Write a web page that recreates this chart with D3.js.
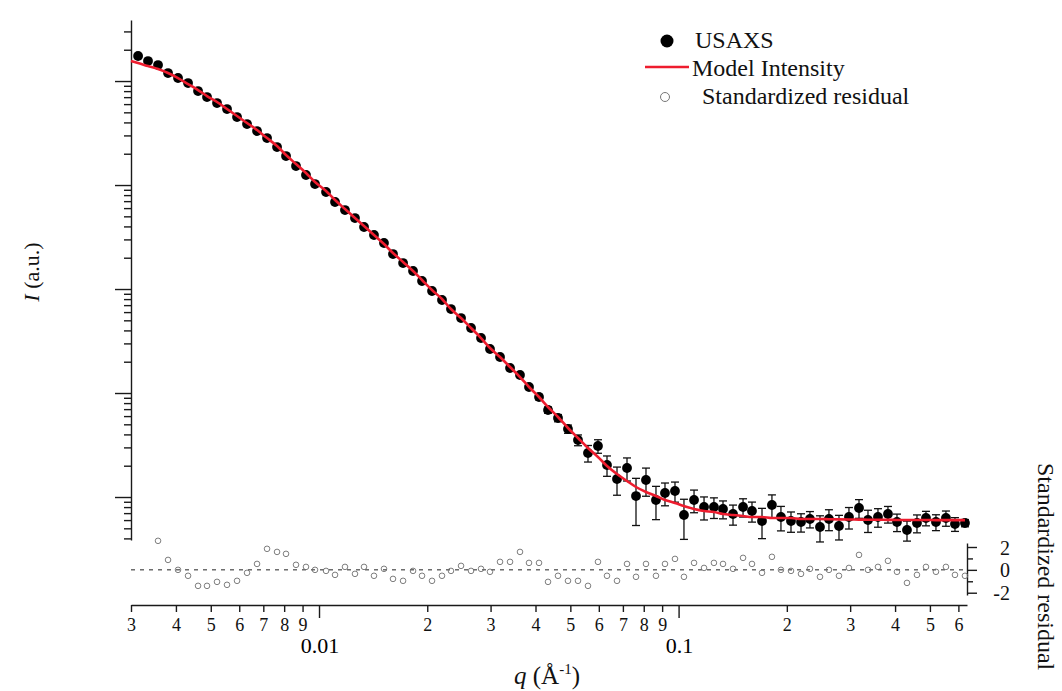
<!DOCTYPE html>
<html>
<head>
<meta charset="utf-8">
<script src="https://cdn.jsdelivr.net/npm/d3@7"></script>
<style>
body { margin: 0; background: #fff; }
svg { display: block; font-family: "Liberation Serif", "Times New Roman", serif; }
</style>
</head>
<body>
<svg id="chart" width="1062" height="691"></svg>
<script>
// q values (1/A) of the USAXS points
var qData = [0.003139, 0.003345, 0.003567, 0.003803, 0.004054, 0.004323, 0.004609, 0.004881, 0.005204, 0.005548,
    0.005916, 0.006307, 0.006724, 0.007169, 0.007643, 0.008095, 0.008630, 0.009200, 0.009747, 0.01046,
    0.01108, 0.01181, 0.01259, 0.01334, 0.01422, 0.01516, 0.01606, 0.01713, 0.01826, 0.01934,
    0.02062, 0.02198, 0.02328, 0.02483, 0.02647, 0.02822, 0.02989, 0.03187, 0.03398, 0.03622,
    0.03837, 0.04091, 0.04334, 0.04620, 0.04925, 0.05251, 0.05598, 0.05968, 0.06323, 0.06741,
    0.07187, 0.07613, 0.08116, 0.08652, 0.09166, 0.09772, 0.1035, 0.1104, 0.1177, 0.1254,
    0.1329, 0.1417, 0.1511, 0.1600, 0.1706, 0.1818, 0.1926, 0.2054, 0.2190, 0.2319,
    0.2473, 0.2619, 0.2793, 0.2977, 0.3175, 0.3363, 0.3585, 0.3822, 0.4049, 0.4317,
    0.4602, 0.4875, 0.5197, 0.5540, 0.5870, 0.6258];

// measured intensity (a.u.)
var iData = [17400, 15570, 14250, 11940, 10690, 9567, 8013, 7017, 6144, 5380,
    4507, 3859, 3306, 2831, 2319, 1900, 1523, 1248, 1022, 856.5,
    686.4, 574.9, 481.6, 394.7, 330.6, 276.9, 217.0, 177.8, 149.0, 119.4,
    95.67, 78.38, 64.21, 52.61, 42.17, 33.79, 26.49, 22.19, 17.40, 14.90,
    11.42, 9.153, 6.864, 5.749, 4.507, 3.532, 2.649, 3.093, 2.031, 1.490,
    1.900, 1.022, 1.457, 0.9358, 1.093, 1.142, 0.6713, 0.9358, 0.8014, 0.8014,
    0.7667, 0.6863, 0.8014, 0.7335, 0.5878, 0.8378, 0.6422, 0.5878, 0.5749, 0.6143,
    0.5146, 0.6143, 0.5262, 0.6422, 0.7838, 0.6009, 0.6422, 0.6863, 0.5749, 0.4816,
    0.5623, 0.6281, 0.5749, 0.6281, 0.5500, 0.5623];

// uncertainty of the intensity
var iError = [350, 310, 285, 240, 215, 190, 160, 140, 125, 108,
    90, 77, 66, 57, 46, 38, 31, 25, 20, 17,
    14, 11.5, 9.6, 7.9, 6.6, 5.5, 4.3, 3.6, 3.0, 2.4,
    2.0, 1.6, 1.3, 1.1, 0.9, 0.75, 0.6, 0.55, 0.45, 0.42,
    0.57, 0.55, 0.48, 0.46, 0.41, 0.42, 0.48, 0.46, 0.45, 0.45,
    0.475, 0.49, 0.44, 0.33, 0.27, 0.25, 0.28, 0.23, 0.20, 0.18,
    0.15, 0.15, 0.16, 0.16, 0.19, 0.21, 0.17, 0.13, 0.115, 0.11,
    0.145, 0.14, 0.14, 0.15, 0.16, 0.145, 0.13, 0.125, 0.11, 0.105,
    0.11, 0.10, 0.10, 0.105, 0.083, 0.045];

// model curve
var qModel = [0.003].concat(qData);
var iModel = [15570, 14900, 13940, 13045, 11940, 10686, 9358, 8194, 7175, 6283, 5380,
    4609, 3947, 3379, 2831, 2371, 1943, 1592, 1305, 1069, 875.6,
    717.5, 587.8, 481.6, 403.4, 330.6, 270.9, 221.9, 181.8, 149.0, 122.1,
    97.81, 80.14, 64.21, 52.61, 42.17, 33.79, 27.08, 22.19, 17.78, 14.25,
    11.42, 9.153, 7.335, 5.878, 4.609, 3.693, 2.959, 2.424, 1.987, 1.664,
    1.425, 1.248, 1.117, 1.022, 0.9358, 0.8757, 0.8195, 0.7667, 0.7335, 0.7175,
    0.6863, 0.6713, 0.6566, 0.6422, 0.6422, 0.6281, 0.6281, 0.6281, 0.6143, 0.6143,
    0.6143, 0.6120, 0.6100, 0.6080, 0.6060, 0.6050, 0.6040, 0.6030, 0.6020, 0.6010,
    0.6009, 0.6005, 0.6000, 0.6000, 0.5995, 0.5990];

// standardized residuals (none for the first two points)
var residual = [null, null, 2.54, 0.87, 0, -0.52, -1.40, -1.40, -1.05, -1.31,
    -0.96, -0.26, 0.52, 1.84, 1.57, 1.40, 0.44, 0.26, 0, -0.09,
    -0.44, 0.26, -0.35, 0.26, -0.52, 0.09, -0.79, -0.96, -0.09, -0.52,
    -0.96, -0.52, -0.09, 0.35, -0.09, 0.09, -0.17, 0.70, 0.70, 1.57,
    0.61, 0.61, -1.05, -0.52, -0.96, -0.96, -1.40, 0.70, -0.52, -0.96,
    0.52, -0.61, 0.52, -0.52, 0.52, 0.96, -0.61, 0.61, 0.17, 0.61,
    0.52, 0.09, 1.05, 0.52, -0.26, 1.14, 0, -0.09, -0.35, 0.09,
    -0.61, 0, -0.52, 0.17, 1.31, 0, 0.26, 0.79, -0.17, -1.14,
    -0.44, 0.26, -0.17, 0.26, -0.44, -0.52];

var xMajorTicks = [0.01, 0.1];
var xMajorLabels = ["0.01", "0.1"];
var residTicks = [-2, -1, 0, 1, 2];
var residLabels = ["-2", "", "0", "", "2"];
var legendLabels = ["USAXS", "Model Intensity", "Standardized residual"];

var svg = d3.select("#chart");
var red = "#ee1c2e";
var axisColor = "#1a1a1a";

// scales
var x = d3.scaleLog().domain([0.003, 0.634]).range([131, 967]);
var y = d3.scaleLog().domain([0.386, 38630]).range([540, 20]);
var yr = d3.scaleLinear().domain([-2.2, 2.35]).range([595, 543]);

function isDecade(v) {
    var l = Math.log10(v);
    return Math.abs(l - Math.round(l)) < 1e-6;
}

// left intensity axis, no labels
var yAxis = svg.append("g")
    .attr("transform", "translate(" + x.range()[0] + ",0)")
    .call(d3.axisLeft(y).tickValues(y.ticks()).tickFormat("").tickSize(7).tickSizeOuter(0));
yAxis.selectAll(".tick line").filter(function(d) { return isDecade(d); }).attr("x2", -16);

// bottom q axis
var xAxis = svg.append("g")
    .attr("transform", "translate(0,605)")
    .call(d3.axisBottom(x).tickValues(x.ticks()).tickSize(7).tickSizeOuter(0)
        .tickFormat(function(d) { return isDecade(d) ? "" : String(Math.round(d / Math.pow(10, Math.floor(Math.log10(d) + 1e-9)))); }));
xAxis.selectAll(".tick line").filter(function(d) { return isDecade(d); }).attr("y2", 13);
xAxis.selectAll(".tick text").attr("y", 26).attr("dy", 0).attr("font-size", 18);

svg.selectAll(".xmajor")
    .data(xMajorTicks)
    .enter().append("text")
    .attr("class", "xmajor")
    .attr("x", function(d) { return x(d) + 1; })
    .attr("y", 653)
    .attr("text-anchor", "middle")
    .attr("font-size", 22)
    .text(function(d, i) { return xMajorLabels[i]; });

// right residual axis
var rAxis = svg.append("g")
    .attr("transform", "translate(" + x.range()[1] + ",0)")
    .call(d3.axisRight(yr).tickValues(residTicks).tickSize(10).tickSizeOuter(0)
        .tickFormat(function(d, i) { return residLabels[i]; }));
rAxis.selectAll(".tick line").filter(function(d) { return d % 2 !== 0; }).attr("x2", 6);
rAxis.selectAll(".tick text").attr("x", 43).attr("dy", "0.35em").attr("text-anchor", "end").attr("font-size", 20);

[yAxis, xAxis, rAxis].forEach(function(a) {
    a.attr("font-family", null);
    a.selectAll("path, line").attr("stroke", axisColor).attr("stroke-width", 1.4);
    a.selectAll("text").attr("fill", "#111");
});

// zero line of the residuals
svg.append("line")
    .attr("x1", x.range()[0]).attr("x2", x.range()[1])
    .attr("y1", yr(0)).attr("y2", yr(0))
    .attr("stroke", "#222").attr("stroke-width", 1)
    .attr("stroke-dasharray", "4,5");

var points = qData.map(function(q, i) {
    return { q: q, I: iData[i], e: iError[i], r: residual[i] };
});

// residual markers
svg.selectAll(".resid")
    .data(points.filter(function(d) { return d.r !== null; }))
    .enter().append("circle")
    .attr("class", "resid")
    .attr("cx", function(d) { return x(d.q); })
    .attr("cy", function(d) { return yr(d.r); })
    .attr("r", 2.8)
    .attr("fill", "none")
    .attr("stroke", "#6e6e6e")
    .attr("stroke-width", 0.9);

// error bars
var bars = svg.append("g").attr("stroke", "#111").attr("stroke-width", 1.3);
points.forEach(function(d) {
    var top = y(d.I + d.e), bot = y(d.I - d.e), cx = x(d.q);
    bars.append("line").attr("x1", cx).attr("x2", cx).attr("y1", top).attr("y2", bot);
    bars.append("line").attr("x1", cx - 4).attr("x2", cx + 4).attr("y1", top).attr("y2", top);
    bars.append("line").attr("x1", cx - 4).attr("x2", cx + 4).attr("y1", bot).attr("y2", bot);
});

// USAXS points
svg.selectAll(".dot")
    .data(points)
    .enter().append("circle")
    .attr("class", "dot")
    .attr("cx", function(d) { return x(d.q); })
    .attr("cy", function(d) { return y(d.I); })
    .attr("r", 4.9)
    .attr("fill", "#000");

// model intensity line
var modelLine = d3.line()
    .x(function(d, i) { return x(qModel[i]); })
    .y(function(d) { return y(d); })
    .curve(d3.curveMonotoneX);

svg.append("path")
    .datum(iModel)
    .attr("d", modelLine)
    .attr("fill", "none")
    .attr("stroke", red)
    .attr("stroke-width", 2.6);

// legend
var legend = svg.append("g").attr("font-size", 24).attr("fill", "#111");
legend.append("circle").attr("cx", 667).attr("cy", 41).attr("r", 6.5).attr("fill", "#000");
legend.append("text").attr("x", 695).attr("y", 48).text(legendLabels[0]);
legend.append("line").attr("x1", 645).attr("x2", 689).attr("y1", 67).attr("y2", 67)
    .attr("stroke", red).attr("stroke-width", 2.6);
legend.append("text").attr("x", 692).attr("y", 76).text(legendLabels[1]);
legend.append("circle").attr("cx", 665).attr("cy", 97).attr("r", 4.5)
    .attr("fill", "none").attr("stroke", "#777").attr("stroke-width", 1);
legend.append("text").attr("x", 702).attr("y", 104).text(legendLabels[2]);

// axis titles
var yTitle = svg.append("text")
    .attr("transform", "translate(39,272) rotate(-90)")
    .attr("text-anchor", "middle")
    .attr("font-size", 22)
    .attr("fill", "#111");
yTitle.append("tspan").attr("font-style", "italic").text("I");
yTitle.append("tspan").text(" (a.u.)");

var xTitle = svg.append("text")
    .attr("x", 547).attr("y", 684)
    .attr("text-anchor", "middle")
    .attr("font-size", 25)
    .attr("fill", "#111");
xTitle.append("tspan").attr("font-style", "italic").text("q");
xTitle.append("tspan").text(" (Å");
xTitle.append("tspan").attr("font-size", 15).attr("dy", -10).text("-1");
xTitle.append("tspan").attr("dy", 10).text(")");

svg.append("text")
    .attr("transform", "translate(1038,463) rotate(90)")
    .attr("font-size", 24)
    .attr("fill", "#111")
    .text("Standardized residual");
</script>
</body>
</html>
